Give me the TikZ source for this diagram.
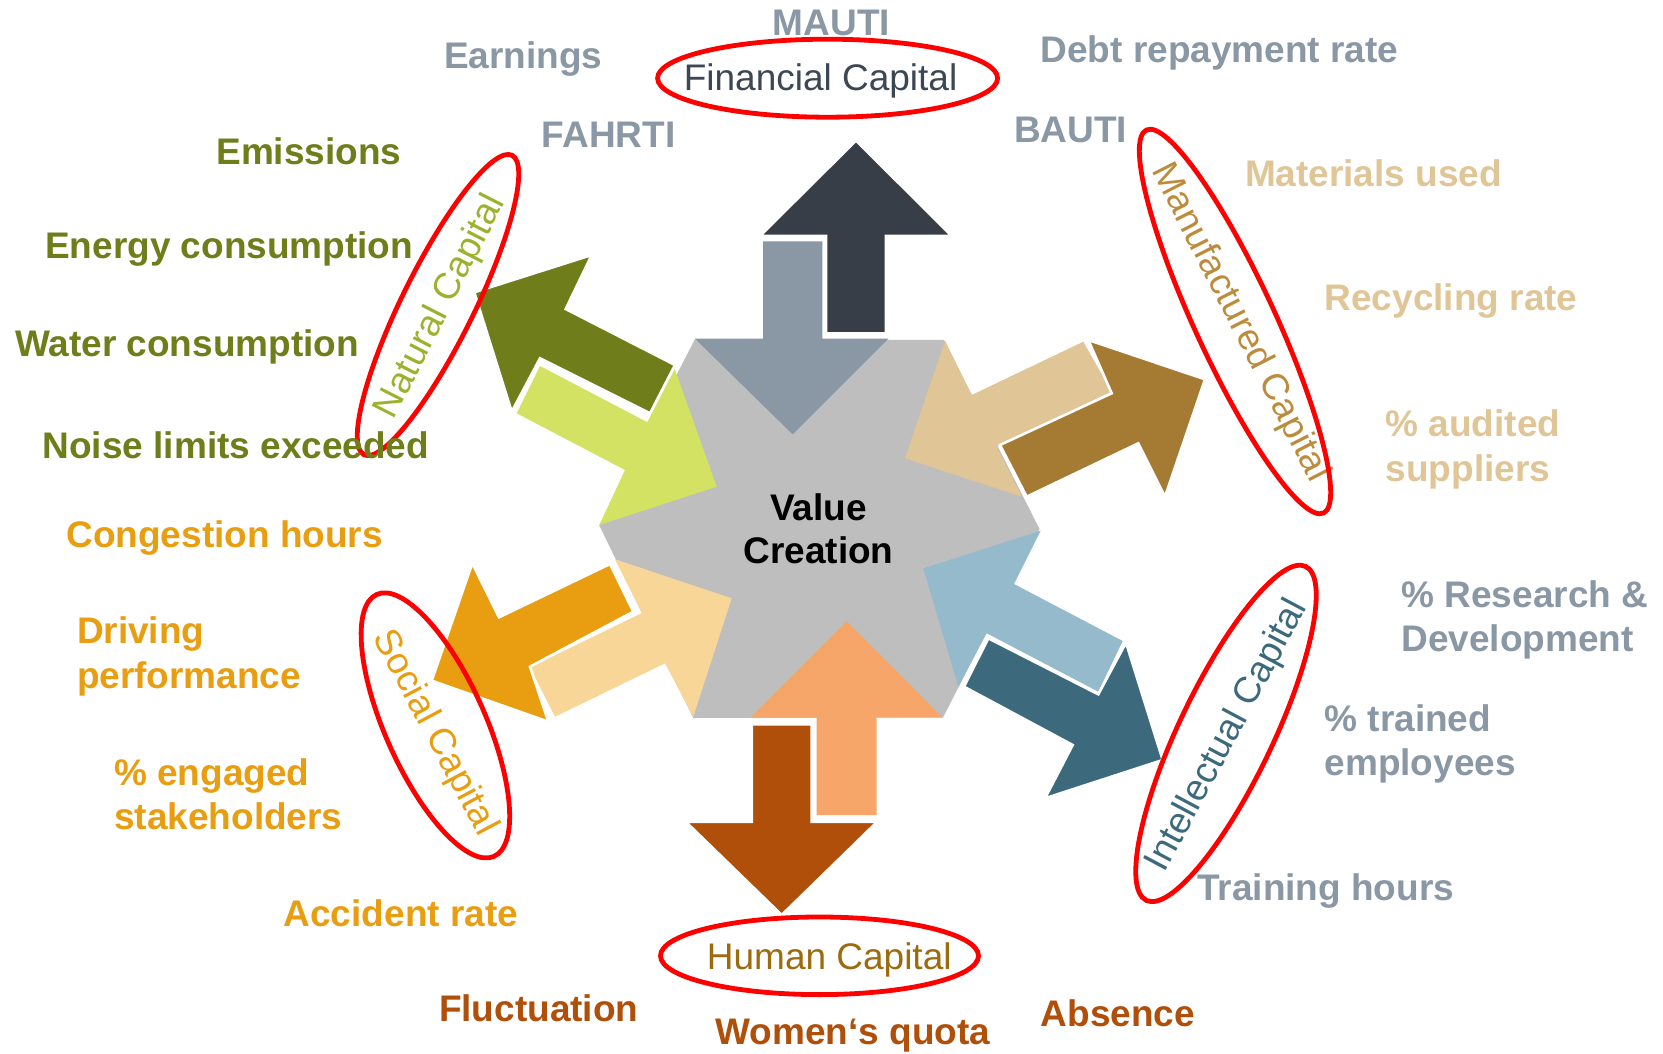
\documentclass[tikz,border=0pt]{standalone}
\usepackage{fontspec}
\setmainfont{Liberation Sans}
\usetikzlibrary{shapes.geometric}
\definecolor{finDark}{HTML}{373E47}
\definecolor{finLight}{HTML}{8A97A4}
\definecolor{starGray}{HTML}{BEBEBE}
\definecolor{natDark}{HTML}{6F7D1A}
\definecolor{natLight}{HTML}{D3E262}
\definecolor{manDark}{HTML}{A57A32}
\definecolor{manLight}{HTML}{E0C596}
\definecolor{intDark}{HTML}{3C6A7C}
\definecolor{intLight}{HTML}{95BACC}
\definecolor{humDark}{HTML}{B04F0A}
\definecolor{humLight}{HTML}{F7A66A}
\definecolor{socDark}{HTML}{E89E10}
\definecolor{socLight}{HTML}{F7D698}
\definecolor{ringRed}{HTML}{FF0000}
\definecolor{finCap}{HTML}{3D4653}
\definecolor{natCap}{HTML}{9CB22E}
\definecolor{manCap}{HTML}{BC8C3C}
\definecolor{humCap}{HTML}{9C6B0E}
\begin{document}
\begin{tikzpicture}[x=1pt,y=-1pt,
  indlabel/.style={font=\bfseries\fontsize{37}{44.5}\selectfont, inner sep=0pt, anchor=base west, align=left},
  caplabel/.style={font=\fontsize{37}{44}\selectfont, inner sep=0pt},
  redring/.style={draw=ringRed, line width=4.8pt, ellipse, inner sep=0pt},
  darkarrow/.style={draw=white, line width=2.6pt, line join=miter}]
\useasboundingbox (0,0) rectangle (1663,1054);
\fill[white] (0,0) rectangle (1663,1054);

% central star
\fill[starGray] (695,339) -- (944,340) -- (1039.5,529) -- (943,717.5) -- (693.3,718) -- (599.3,525.5) -- cycle;

% incoming (light) arrows
\fill[finLight] (763,241.4) -- (822.3,241.4) -- (822.3,338.7) -- (888.3,338.7) -- (792.7,434.4) -- (695,338.7) -- (763,338.7) -- cycle;
\fill[natLight] (540,366) -- (647.3,422.2) -- (674.7,368.8) -- (716.7,486.7) -- (599.3,525) -- (625,470) -- (516.7,413.3) -- cycle;
\fill[manLight] (1083.3,341.7) -- (971.7,395) -- (945,340.7) -- (905,458.3) -- (1021.7,496.7) -- (997,446.5) -- (1111.7,391.7) -- cycle;
\fill[intLight] (1122.7,641) -- (1014,584) -- (1040.7,530.7) -- (923.3,568.3) -- (958.3,686.7) -- (986.6,633.2) -- (1098.3,691.7) -- cycle;
\fill[humLight] (846.7,621) -- (942.7,717.3) -- (876.7,717.3) -- (876.7,815) -- (816.7,815) -- (816.7,717.3) -- (750.7,717.3) -- cycle;
\fill[socLight] (530,667.3) -- (641.8,613.1) -- (615,559.3) -- (731.7,598.3) -- (693.3,716.7) -- (665,663.3) -- (555,716.7) -- cycle;

% outgoing (dark) arrows
\filldraw[fill=finDark, darkarrow] (856,140.6) -- (951.7,235.9) -- (886,235.9) -- (886,333.5) -- (826,333.5) -- (826,235.9) -- (760,235.9) -- cycle;
\filldraw[fill=natDark, darkarrow] (474.3,292.3) -- (591.7,255) -- (565.7,309) -- (675,365) -- (650,413.3) -- (540,358.3) -- (511.7,411.7) -- cycle;
\filldraw[fill=manDark, darkarrow] (1205,379.3) -- (1165,496.7) -- (1138.3,443.3) -- (1026.7,496.7) -- (1000,445) -- (1111.7,393.3) -- (1088.3,340) -- cycle;
\filldraw[fill=intDark, darkarrow] (1162.7,760) -- (1045,798.3) -- (1072.7,745) -- (964,686.7) -- (988.3,638.3) -- (1098.3,694.3) -- (1126,642.7) -- cycle;
\filldraw[fill=humDark, darkarrow] (751.7,724.3) -- (811.7,724.3) -- (811.7,821.7) -- (877.3,821.7) -- (781.7,915) -- (685.7,821.7) -- (751.7,821.7) -- cycle;
\filldraw[fill=socDark, darkarrow] (431.7,680.7) -- (472.3,563.3) -- (499,617.3) -- (610,564) -- (633.3,611.7) -- (530,666.7) -- (548.3,721.7) -- cycle;

% centre text (base anchor = baseline of the last line)
\node[font=\bfseries\fontsize{37}{43.6}\selectfont, inner sep=0pt, align=center, anchor=base] (vc) at (818.5,563.6) {Value\\Creation};

% capital labels
\node[caplabel, text=finCap, anchor=base west] (fincap) at (683.6,90.8) {Financial Capital};
\node[caplabel, text=humCap, anchor=base west] (humcap) at (706.7,969.3) {Human Capital};
\node[caplabel, text=natCap, rotate=63] (natcap) at (441,306.8) {Natural Capital};
\node[caplabel, text=manCap, rotate=-63] (mancap) at (1239.5,322.6) {Manufactured Capital};
\node[caplabel, text=socDark, rotate=-62] (soccap) at (434.5,733) {Social Capital};
\node[caplabel, text=intDark, rotate=62] (intcap) at (1227.5,736) {Intellectual Capital};

% red rings
\node[redring, minimum width=340pt, minimum height=78pt] (finring) at (827.6,78.2) {};
\node[redring, minimum width=318pt, minimum height=77.6pt] (humring) at (819.5,955.8) {};
\node[redring, minimum width=334pt, minimum height=72pt, rotate=63.7] (natring) at (438,305) {};
\node[redring, minimum width=422pt, minimum height=80pt, rotate=-65.2] (manring) at (1235,321.5) {};
\node[redring, minimum width=287pt, minimum height=100pt, rotate=-65.9] (socring) at (435.4,725.4) {};
\node[redring, minimum width=370pt, minimum height=94pt, rotate=64.5] (intring) at (1226,733.4) {};

% financial indicators
\node[indlabel, text=finLight] (earn) at (444,69) {Earnings};
\node[indlabel, text=finLight] (mauti) at (772.6,35.5) {MAUTI};
\node[indlabel, text=finLight] (fahrti) at (541.6,147.9) {FAHRTI};
\node[indlabel, text=finLight] (debt) at (1040.5,62.2) {Debt repayment rate};
\node[indlabel, text=finLight] (bauti) at (1014,142.9) {BAUTI};
% natural indicators
\node[indlabel, text=natDark] (emis) at (216.2,164.7) {Emissions};
\node[indlabel, text=natDark] (energy) at (45,258.8) {Energy consumption};
\node[indlabel, text=natDark] (water) at (14.8,356.3) {Water consumption};
\node[indlabel, text=natDark] (noise) at (42.4,458.8) {Noise limits exceeded};
% manufactured indicators (two-line nodes placed by their last baseline)
\node[indlabel, text=manLight] (mat) at (1244.8,186.6) {Materials used};
\node[indlabel, text=manLight] (recyc) at (1324.4,310.9) {Recycling rate};
\node[indlabel, text=manLight] (audit) at (1385.4,481) {\% audited\\suppliers};
% intellectual indicators
\node[indlabel, text=finLight] (rnd) at (1401.3,651.6) {\% Research \&\\Development};
\node[indlabel, text=finLight] (trained) at (1324.4,775.6) {\% trained\\employees};
\node[indlabel, text=finLight] (trainh) at (1197,900) {Training hours};
% human indicators
\node[indlabel, text=humDark] (fluct) at (438.8,1021) {Fluctuation};
\node[indlabel, text=humDark] (women) at (715.4,1044.6) {Women‘s quota};
\node[indlabel, text=humDark] (absence) at (1040.5,1026) {Absence};
% social indicators
\node[indlabel, text=socDark] (cong) at (66.2,547) {Congestion hours};
\node[indlabel, text=socDark] (driving) at (76.8,688) {Driving\\performance};
\node[indlabel, text=socDark] (engaged) at (114,829.5) {\% engaged\\stakeholders};
\node[indlabel, text=socDark] (accid) at (283.5,926) {Accident rate};
\end{tikzpicture}
\end{document}
